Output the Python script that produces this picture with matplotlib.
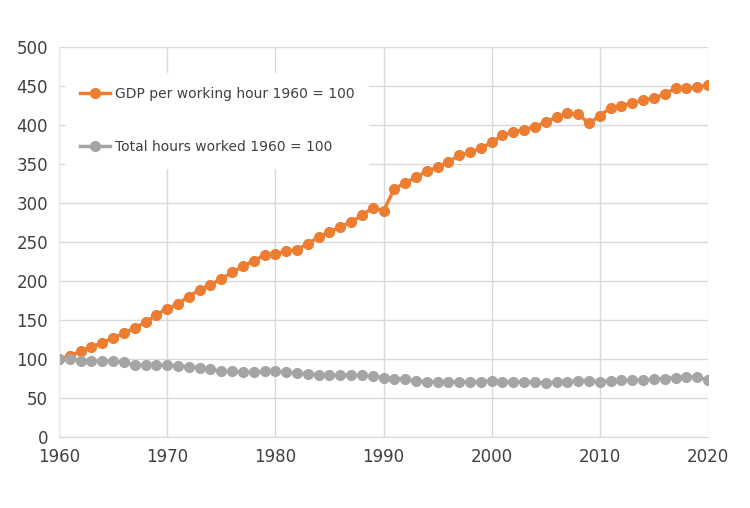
import numpy as np
from matplotlib import pyplot as plt

years = np.arange(1960, 2021)
gdp_per_hour = [100, 104, 110, 115, 121, 127, 133, 140, 147, 157,
                164, 171, 180, 189, 195, 203, 211, 219, 226, 233,
                235, 238, 240, 248, 256, 263, 269, 276, 284, 294,
                290, 318, 326, 333, 341, 346, 353, 361, 365, 370,
                378, 387, 391, 394, 398, 404, 410, 415, 414, 402,
                412, 422, 425, 428, 432, 434, 440, 447, 447, 449,
                451]
hours_worked = [100, 100, 98, 97, 97, 97, 96, 92, 92, 92,
                92, 91, 90, 89, 87, 84, 84, 83, 83, 84,
                84, 83, 82, 81, 80, 79, 79, 79, 79, 78,
                76, 75, 74, 72, 71, 71, 71, 70, 71, 71,
                72, 71, 71, 70, 70, 69, 70, 71, 72, 72,
                71, 72, 73, 73, 73, 74, 75, 76, 77, 77,
                73]

fig = plt.figure(figsize=(7.5, 5.08), dpi=100)
ax = fig.add_axes([59 / 750, 1 - 437 / 508, (708 - 59) / 750, (437 - 47) / 508])

ax.plot(years, gdp_per_hour, color="#ED7D31", linewidth=2.5, marker="o", markersize=7,
        label="GDP per working hour 1960 = 100")
ax.plot(years, hours_worked, color="#A5A5A5", linewidth=2.5, marker="o", markersize=7,
        label="Total hours worked 1960 = 100")

ax.set_xlim(1960, 2020)
ax.set_ylim(0, 500)
ax.set_xticks(range(1960, 2021, 10))
ax.set_yticks(range(0, 501, 50))
ax.grid(True, color="#D9D9D9", linewidth=1)
ax.set_axisbelow(True)
for s in ["top", "right"]:
    ax.spines[s].set_visible(False)
ax.spines["left"].set_color("#E6E6E6")
ax.spines["bottom"].set_color("#D9D9D9")
ax.tick_params(length=0, labelsize=12, colors="#404040", pad=8)

leg = ax.legend(loc="upper left", bbox_to_anchor=(0.0, 0.95), frameon=True, fancybox=False,
                edgecolor="white", framealpha=1, fontsize=10, labelspacing=2.8,
                handlelength=2.2, handletextpad=0.3, borderpad=1.0)
for t in leg.get_texts():
    t.set_color("#404040")

fig.savefig("out.png", dpi=100)
